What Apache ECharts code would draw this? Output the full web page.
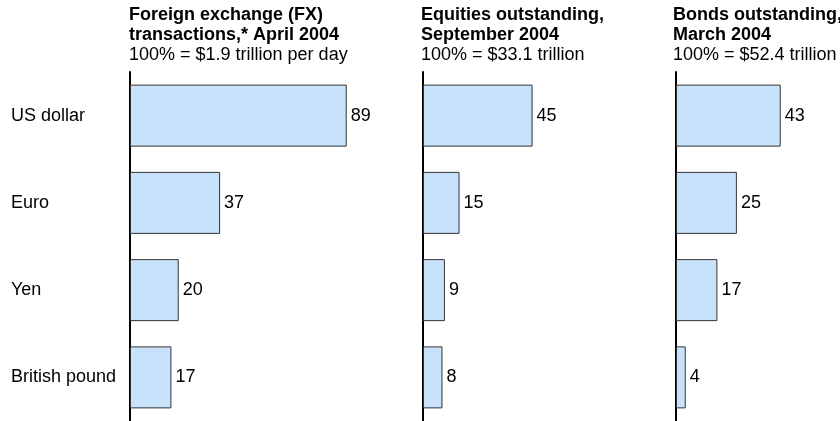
<!DOCTYPE html>
<html>
<head>
<meta charset="utf-8">
<script src="https://cdn.jsdelivr.net/npm/echarts@6/dist/echarts.min.js"></script>
<style>
html,body{margin:0;padding:0;background:#fff;}
#chart{width:840px;height:421px;}
</style>
</head>
<body>
<div id="chart"></div>
<script>
const categories = ['US dollar', 'Euro', 'Yen', 'British pound'];
const fxValues = [89, 37, 20, 17];
const equityValues = [45, 15, 9, 8];
const bondValues = [43, 25, 17, 4];
const panelTitles = ['Foreign exchange (FX)\ntransactions,* April 2004', 'Equities outstanding,\nSeptember 2004', 'Bonds outstanding,\nMarch 2004'];
const panelSubtitles = ['100% = $1.9 trillion per day', '100% = $33.1 trillion', '100% = $52.4 trillion'];
const panelValues = [fxValues, equityValues, bondValues];

const FONT = 'Liberation Sans, Arial, Helvetica, sans-serif';
const gridLefts = [130, 423, 676];
const titleLefts = [129, 421, 673];
const axisMaxes = [100, 100, 60];
const pxPerUnit = 2.435;

const chart = echarts.init(document.getElementById('chart'));

const option = {
  backgroundColor: '#ffffff',
  animation: false,
  title: panelTitles.map((t, i) => ({
    text: t,
    subtext: panelSubtitles[i],
    left: titleLefts[i],
    top: 5,
    padding: 0,
    itemGap: 0,
    textStyle: {fontFamily: FONT, fontSize: 18, fontWeight: 'bold', color: '#000', lineHeight: 20},
    subtextStyle: {fontFamily: FONT, fontSize: 18, fontWeight: 'normal', color: '#000', lineHeight: 20}
  })),
  grid: gridLefts.map((l, i) => ({left: l, top: 72, bottom: 0, width: pxPerUnit * axisMaxes[i], containLabel: false})),
  xAxis: gridLefts.map((l, i) => ({
    type: 'value', gridIndex: i, min: 0, max: axisMaxes[i], show: false, splitLine: {show: false}
  })),
  yAxis: gridLefts.map((l, i) => ({
    type: 'category', gridIndex: i, data: categories, inverse: true,
    axisLine: {show: true, lineStyle: {color: '#000', width: 2}},
    axisTick: {show: false},
    splitLine: {show: false},
    axisLabel: {
      show: i === 0, align: 'left', margin: 119,
      fontFamily: FONT, fontSize: 18, color: '#000'
    }
  })),
  series: panelValues.map((vals, i) => ({
    type: 'bar', xAxisIndex: i, yAxisIndex: i, data: vals,
    barWidth: 62,
    itemStyle: {color: '#C9E2FB', borderColor: '#333', borderWidth: 1},
    label: {show: true, position: 'right', distance: 4, fontFamily: FONT, fontSize: 18, color: '#000'}
  }))
};
chart.setOption(option);
</script>
</body>
</html>
